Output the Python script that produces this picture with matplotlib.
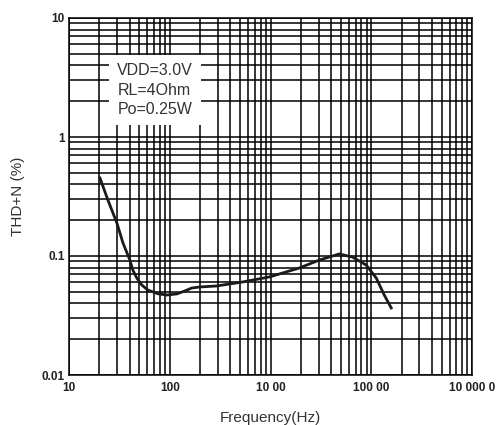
import matplotlib
matplotlib.use("Agg")
import matplotlib.pyplot as plt
import numpy as np

# THD+N vs frequency
freq = [20.3, 24.3, 29.9, 34.3, 40.2, 43.0, 47.1, 52.8, 60.6, 76.1, 93.4, 117.3,
        140.8, 165.1, 198, 292, 393, 528, 977, 1936, 3054, 4819, 6486, 8913,
        11210, 13460, 15790]
thd = [0.452, 0.296, 0.189, 0.129, 0.0925, 0.0762, 0.0653, 0.057, 0.0518, 0.0482,
       0.047, 0.048, 0.0508, 0.0538, 0.0549, 0.056, 0.0582, 0.0605, 0.0667, 0.0793,
       0.0925, 0.104, 0.0981, 0.084, 0.0653, 0.047, 0.0366]

xticks = [10, 100, 1000, 10000, 100000]
xticklabels = ["10", "100", "10 00", "100 00", "10 000 0"]
yticks = [0.01, 0.1, 1, 10]
yticklabels = ["0.01", "0.1", "1", "10"]
notes = ["VDD=3.0V", "RL=4Ohm", "Po=0.25W"]

plt.rcParams['font.family'] = ['Liberation Sans', 'DejaVu Sans']

fig = plt.figure(figsize=(5.03, 4.25), dpi=100)
ax = fig.add_axes([69 / 503, 50 / 425, 403 / 503, 357 / 425])

ax.set_xscale("log")
ax.set_yscale("log")
ax.set_xlim(10, 100000)
ax.set_ylim(0.01, 10)

ax.grid(True, which="both", color="black", linewidth=1.1)
ax.set_axisbelow(True)

ax.plot(freq, thd, color="#1a1a1a", linewidth=2, solid_joinstyle="round")

ax.set_xticks(xticks)
ax.set_xticklabels(xticklabels, fontsize=8.5, fontweight="bold", color="#222222")
ax.set_yticks(yticks)
ax.set_yticklabels(yticklabels, fontsize=8.5, fontweight="bold", color="#222222")
ax.tick_params(which="both", length=0, pad=5)
ax.tick_params(axis="y", pad=3)

for s in ax.spines.values():
    s.set_color("black")
    s.set_linewidth(1.1)

ax.set_xlabel("Frequency(Hz)", fontsize=11, color="#333333", labelpad=12)
ax.set_ylabel("THD+N (%)", fontsize=11, color="#333333", labelpad=12)

ax.text(0.12, 0.873, "\n".join(notes), transform=ax.transAxes, fontsize=11.5,
        color="#333333", va="top", ha="left", linespacing=1.35,
        bbox=dict(facecolor="white", edgecolor="none", pad=6))

fig.savefig("out.png", dpi=100)
